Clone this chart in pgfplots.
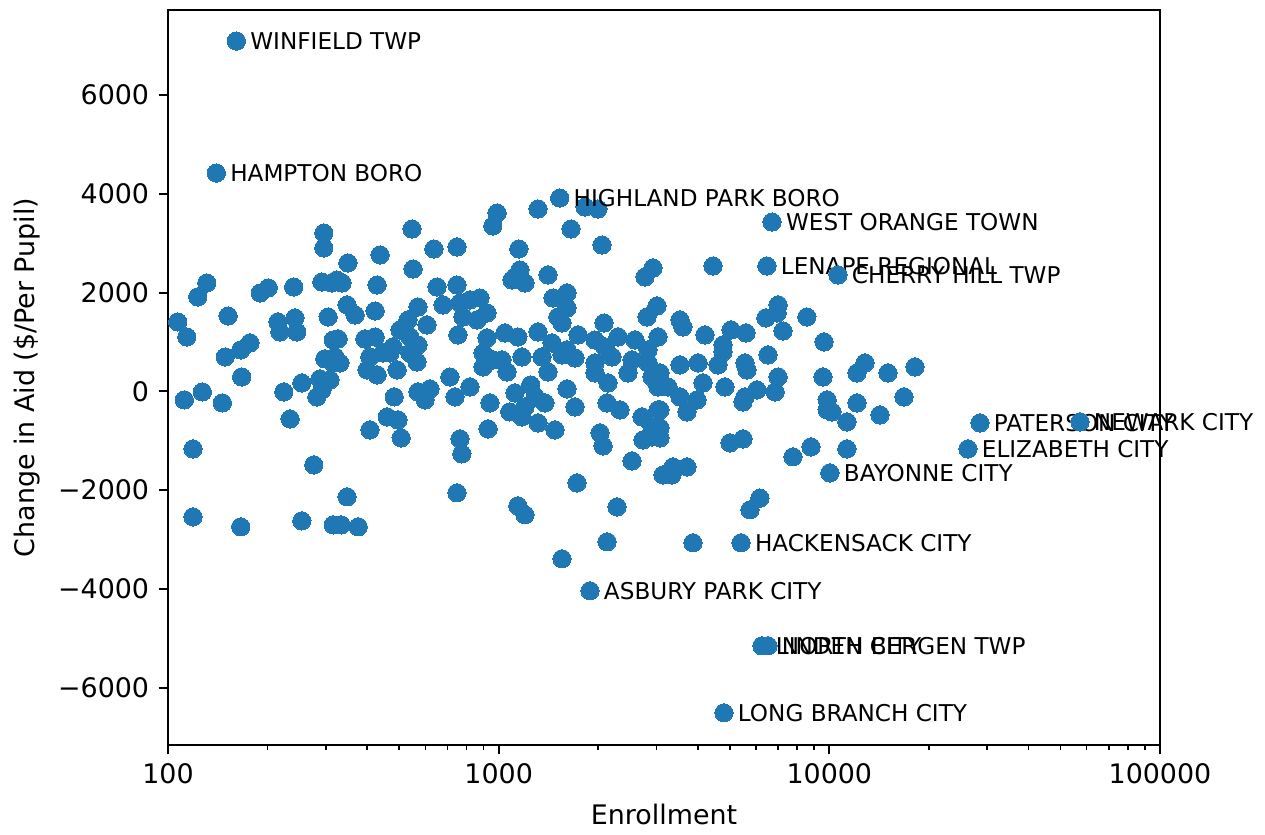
\documentclass[border=0pt]{standalone}
\usepackage{pgfplots}
\usepackage{pgfplotstable}
\pgfplotsset{compat=1.18}
\usepackage{fontspec}
\setmainfont{DejaVu Sans}
\definecolor{c0}{HTML}{1F77B4}

\pgfplotstableread{
x y
296 3208
296 2904
131 2196
123 1913
190 1994
201 2095
240 2115
292 2216
313 2196
107 1407
114 1103
152 1528
215 1407
242 1488
218 1204
245 1204
305 1508
316 1042
177 982
166 840
149 698
298 660
167 293
112 -172
127 -10
146 -233
224 -10
254 172
288 253
292 30
282 -111
316 577
234 -557
119 -1164
276 -1488
119 -2540
166 -2742
254 -2621
316 -2702
547 3289
960 3350
989 3613
438 2763
637 2884
748 2925
350 2601
551 2479
324 2257
336 2196
429 2155
651 2115
748 2155
348 1751
368 1548
423 1629
570 1710
679 1751
607 1346
532 1447
503 1245
539 1103
570 941
764 1791
819 1852
878 1892
922 1589
860 1447
780 1508
753 1144
327 1063
394 1063
423 1103
479 901
447 779
922 1083
897 779
320 698
331 577
408 698
469 779
539 779
400 435
429 334
493 435
566 597
309 233
712 293
819 91
897 496
961 638
483 -111
570 -10
620 51
599 -172
738 -111
941 -233
460 -516
496 -577
408 -779
507 -941
764 -961
774 -1265
929 -759
348 -2135
748 -2054
334 -2702
376 -2742
1315 3694
1824 3734
1996 3694
1655 3289
2054 2965
1151 2884
1120 2317
1201 2196
1097 2257
1160 2459
1410 2358
2770 2317
2930 2500
1460 1892
1610 1994
1610 1690
1510 1508
1554 1386
2083 1386
2810 1508
3012 1731
1738 1144
3033 1103
1045 1184
1143 1103
1315 1204
1450 982
1610 840
1955 1042
2097 901
2296 1103
2584 1042
2830 840
1610 51
1701 -314
2127 -233
2328 -374
1120 -30
1201 -314
1176 -516
1380 -233
1315 -638
1480 -779
2026 -840
2069 -1103
2713 -516
2909 -719
2733 -982
2909 -921
3033 -374
2531 -1407
3141 -1690
1725 -1852
1143 -2317
1201 -2499
2280 -2338
2127 -3046
1023 638
1176 698
1352 698
1554 739
1701 678
1955 577
2202 698
2531 638
2830 577
1955 374
2141 172
2462 374
2909 293
3033 91
1060 394
1250 131
1410 394
1290 -111
1080 -415
4449 2540
6998 1751
6950 1589
6430 1488
7243 1224
8551 1508
9640 1002
3534 1447
3607 1305
4207 1144
4768 941
5045 1245
5598 1184
6524 739
3534 537
4010 577
4605 537
5560 577
4768 799
3076 374
3253 91
3534 -111
4150 172
3981 -172
3712 -415
3076 -374
4835 91
5560 -111
6039 30
5637 435
5484 -213
6998 293
6855 -10
9570 293
9848 -172
9848 -374
3076 -739
3076 -941
5008 -1042
5484 -961
3366 -1528
3712 -1528
3342 -1690
7762 -1325
8800 -1123
6166 -2160
5755 -2398
3870 -3066
12820 577
12120 374
15040 374
18160 496
10190 -415
12120 -233
11300 -617
14230 -476
16820 -111
11300 -1164
1554 -3390
}\alldata

\pgfplotstableread{
x y label
161 7094 {WINFIELD TWP}
140 4422 {HAMPTON BORO}
1530 3916 {HIGHLAND PARK BORO}
6711 3431 {WEST ORANGE TOWN}
6475 2540 {LENAPE REGIONAL}
10620 2358 {CHERRY HILL TWP}
28550 -638 {PATERSON CITY}
57290 -617 {NEWARK CITY}
26250 -1164 {ELIZABETH CITY}
10040 -1650 {BAYONNE CITY}
5407 -3066 {HACKENSACK CITY}
1889 -4038 {ASBURY PARK CITY}
6253 -5151 {LINDEN CITY}
6524 -5151 {NORTH BERGEN TWP}
4800 -6507 {LONG BRANCH CITY}
}\labeled

\begin{document}
\begin{tikzpicture}
\begin{axis}[
  scale only axis, width=368.8pt, height=273.2pt,
  xmode=log, xmin=100, xmax=100000, ymin=-7156, ymax=7722,
  xtick={100,1000,10000,100000},
  xticklabels={100,1000,10000,100000},
  minor xtick={200,300,400,500,600,700,800,900,2000,3000,4000,5000,6000,7000,8000,9000,20000,30000,40000,50000,60000,70000,80000,90000},
  ytick={-6000,-4000,-2000,0,2000,4000,6000},
  yticklabels={−6000,−4000,−2000,0,2000,4000,6000},
  tick align=outside, tick pos=left,
  major tick length=3.5pt, minor tick length=2pt,
  every tick/.style={black, line width=0.8pt},
  every minor tick/.style={black, line width=0.6pt},
  axis line style={line width=0.8pt},
  tick label style={font=\fontsize{10}{12}\selectfont},
  label style={font=\fontsize{10}{12}\selectfont},
  xlabel={Enrollment}, ylabel={Change in Aid (\$/Per Pupil)},
  xlabel style={at={(rel axis cs:0.5,-0.0952)}, anchor=center},
  ylabel style={at={(rel axis cs:-0.142,0.5)}, anchor=center},
  clip=false,
]
\addplot[c0, only marks, mark=*, mark size=3.4pt, mark options={draw=c0, fill=c0, line width=0pt}] table {\alldata};
\addplot[c0, only marks, mark=*, mark size=3.4pt, mark options={draw=c0, fill=c0, line width=0pt},
  nodes near coords, point meta=explicit symbolic,
  every node near coord/.append style={anchor=west, xshift=5.2pt, inner sep=0pt, text=black, font=\fontsize{8.6}{10}\selectfont}]
  table[meta=label] {\labeled};
\path (rel axis cs:-0.16935,-0.1170) rectangle (rel axis cs:1.10585,1.01361);
\end{axis}
\end{tikzpicture}
\end{document}
